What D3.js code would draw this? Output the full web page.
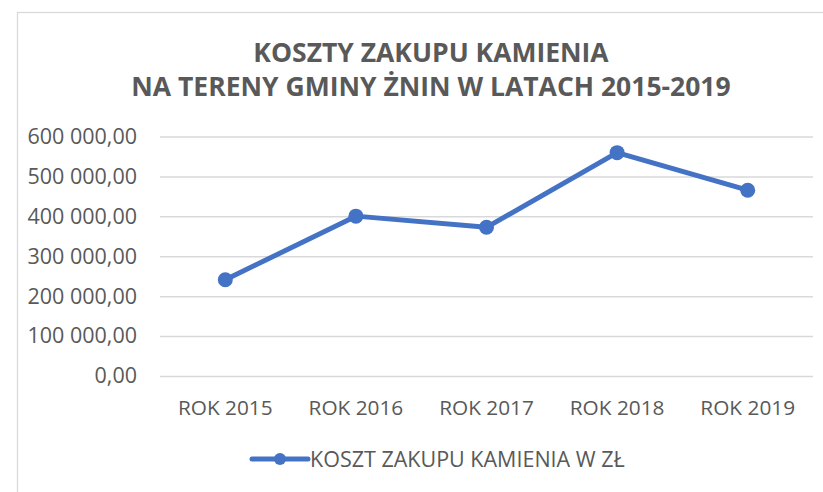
<!DOCTYPE html>
<html>
<head>
<meta charset="utf-8">
<script src="https://cdn.jsdelivr.net/npm/d3@7"></script>
<style>
  body { margin: 0; background: #fff; }
  svg text { font-family: "Open Sans", sans-serif; fill: #595959; }
</style>
</head>
<body>
<div id="chart"></div>
<script>
// data
const years = ["ROK 2015", "ROK 2016", "ROK 2017", "ROK 2018", "ROK 2019"];
const costs = [241000, 400500, 372500, 559500, 465500];
const yTicks = [0, 100000, 200000, 300000, 400000, 500000, 600000];
const titleLines = ["KOSZTY ZAKUPU KAMIENIA", "NA TERENY GMINY ŻNIN W LATACH 2015-2019"];
const seriesName = "KOSZT ZAKUPU KAMIENIA W ZŁ";

const W = 823, H = 492;
const plot = {left: 160, right: 813, top: 136.5, bottom: 376};
const blue = "#4472C4";

const svg = d3.select("#chart")
    .append("svg")
    .attr("width", W)
    .attr("height", H);

// chart frame (runs off the right and bottom edge)
svg.append("rect")
    .attr("x", 17.5)
    .attr("y", 12.5)
    .attr("width", W + 20)
    .attr("height", H + 20)
    .attr("fill", "none")
    .attr("stroke", "#d9d9d9")
    .attr("stroke-width", 1.3);

// title
svg.append("g")
    .selectAll("text")
    .data(titleLines)
    .enter().append("text")
    .attr("x", 431)
    .attr("y", (d, i) => 62.3 + i * 33.4)
    .attr("text-anchor", "middle")
    .attr("font-weight", "bold")
    .attr("font-size", 26.5)
    .text(d => d);

// scales
const x = d3.scaleBand()
    .domain(years)
    .range([plot.left, plot.right]);
const y = d3.scaleLinear()
    .domain([0, 600000])
    .range([plot.bottom, plot.top]);

const fmt = v => d3.format(",.2f")(v).replace(/,/g, " ").replace(".", ",");

// y axis with gridlines
const yAxis = svg.append("g")
    .attr("transform", `translate(${plot.left},0)`)
    .call(d3.axisLeft(y).tickValues(yTicks).tickFormat(fmt)
        .tickSize(-(plot.right - plot.left)).tickPadding(23));
yAxis.select(".domain").remove();
yAxis.selectAll(".tick line")
    .attr("stroke", "#d9d9d9")
    .attr("stroke-width", 1.5);
yAxis.selectAll(".tick text")
    .attr("font-size", 21.5)
    .attr("font-family", "Open Sans")
    .attr("fill", "#595959");

// x axis labels
const xAxis = svg.append("g")
    .attr("transform", `translate(0,${plot.bottom})`)
    .call(d3.axisBottom(x).tickSize(0).tickPadding(24));
xAxis.select(".domain").remove();
xAxis.selectAll(".tick text")
    .attr("font-size", 20.8)
    .attr("font-family", "Open Sans")
    .attr("fill", "#595959");

// line
const line = d3.line()
    .x((d, i) => x(years[i]) + x.bandwidth() / 2)
    .y(d => y(d));

svg.append("path")
    .datum(costs)
    .attr("d", line)
    .attr("fill", "none")
    .attr("stroke", blue)
    .attr("stroke-width", 5)
    .attr("stroke-linejoin", "round")
    .attr("stroke-linecap", "round");

svg.selectAll("circle.pt")
    .data(costs)
    .enter().append("circle")
    .attr("class", "pt")
    .attr("cx", (d, i) => x(years[i]) + x.bandwidth() / 2)
    .attr("cy", d => y(d))
    .attr("r", 7.5)
    .attr("fill", blue);

// legend
const legend = svg.append("g")
    .attr("transform", "translate(252,459)");
legend.append("line")
    .attr("x1", 0)
    .attr("x2", 56)
    .attr("stroke", blue)
    .attr("stroke-width", 5)
    .attr("stroke-linecap", "round");
legend.append("circle")
    .attr("cx", 28)
    .attr("r", 6)
    .attr("fill", blue);
legend.append("text")
    .attr("x", 58)
    .attr("dy", "0.35em")
    .attr("font-size", 21.5)
    .text(seriesName);
</script>
</body>
</html>
